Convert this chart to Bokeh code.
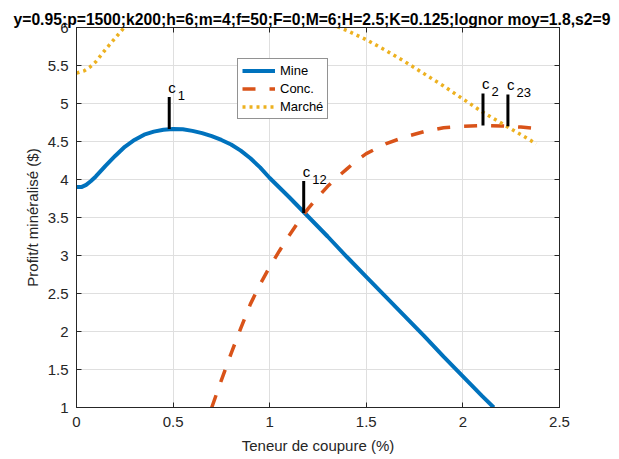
import numpy as np
from bokeh.plotting import figure
from bokeh.models import Range1d, LinearAxis, FixedTicker, Legend, LegendItem
from bokeh.core.properties import value
from bokeh.embed import file_html
from bokeh.resources import INLINE

title_text = "y=0.95;p=1500;k200;h=6;m=4;f=50;F=0;M=6;H=2.5;K=0.125;lognor moy=1.8,s2=9"
x_label = "Teneur de coupure (%)"
y_label = "Profit/t minéralisé ($)"

x_ticks = [0, 0.5, 1, 1.5, 2, 2.5]
x_tick_labels = ["0", "0.5", "1", "1.5", "2", "2.5"]
y_ticks = [1, 1.5, 2, 2.5, 3, 3.5, 4, 4.5, 5, 5.5, 6]
y_tick_labels = ["1", "1.5", "2", "2.5", "3", "3.5", "4", "4.5", "5", "5.5", "6"]

mine_x = [0, 0.025, 0.05, 0.075, 0.1, 0.15, 0.2, 0.25, 0.3, 0.35, 0.4, 0.45, 0.5, 0.55,
          0.6, 0.65, 0.7, 0.75, 0.8, 0.85, 0.9, 0.95, 1.0, 1.1, 1.2, 1.3, 1.4, 1.5,
          1.6, 1.7, 1.8, 1.9, 2.0, 2.1, 2.16]
mine_y = [3.90, 3.90, 3.93, 3.98, 4.04, 4.18, 4.31, 4.43, 4.52, 4.59, 4.63, 4.655, 4.665, 4.66,
          4.64, 4.61, 4.57, 4.52, 4.46, 4.38, 4.28, 4.16, 4.02, 3.77, 3.51, 3.25, 2.98, 2.72,
          2.46, 2.20, 1.94, 1.67, 1.41, 1.15, 1.0]

conc_x = [0.70, 0.75, 0.8, 0.85, 0.9, 0.95, 1.0, 1.05, 1.1, 1.15, 1.2, 1.25, 1.3, 1.35,
          1.4, 1.45, 1.5, 1.6, 1.7, 1.8, 1.9, 2.0, 2.1, 2.2, 2.3, 2.36]
conc_y = [1.0, 1.36, 1.71, 2.04, 2.36, 2.62, 2.85, 3.06, 3.26, 3.45, 3.62, 3.77, 3.91, 4.03,
          4.14, 4.25, 4.34, 4.47, 4.56, 4.63, 4.68, 4.70, 4.71, 4.705, 4.69, 4.675]

marche_x = [0, 0.04, 0.07, 0.1, 0.15, 0.2, 0.25, np.nan,
            1.35, 1.4, 1.5, 1.6, 1.7, 1.8, 1.9, 2.0, 2.1, 2.2, 2.3, 2.38]
marche_y = [5.40, 5.43, 5.48, 5.55, 5.71, 5.86, 6.01, np.nan,
            6.01, 5.96, 5.84, 5.70, 5.55, 5.39, 5.23, 5.06, 4.89, 4.74, 4.59, 4.47]

c_x = [0.48, 1.176, 2.104, 2.233]
c_y = [4.665, 3.56, 4.71, 4.70]
c_sub = ["1", "12", "2", "23"]

FONT = "Liberation Sans"
AX = "#262626"

p = figure(width=619, height=459, output_backend="svg", toolbar_location=None,
           x_range=Range1d(0, 2.5), y_range=Range1d(1, 6),
           min_border_left=76, min_border_right=60, min_border_top=27, min_border_bottom=52)
p.background_fill_color = "white"
p.border_fill_color = "white"
p.outline_line_color = AX
p.outline_line_width = 1

p.title.text = title_text
p.title.align = "left"
p.title.offset = -63
p.title.text_font = FONT
p.title.text_font_size = "15.7px"
p.title.text_font_style = "bold"
p.title.text_color = "black"
p.title.standoff = 0

for ax, ticks, labels in ((p.xaxis[0], x_ticks, x_tick_labels), (p.yaxis[0], y_ticks, y_tick_labels)):
    ax.ticker = FixedTicker(ticks=ticks)
    ax.major_label_overrides = dict(zip(ticks, labels))
    ax.major_tick_in = 5
    ax.major_tick_out = 0
    ax.minor_tick_line_color = None
    ax.axis_line_color = AX
    ax.major_tick_line_color = AX
    ax.major_label_text_font = FONT
    ax.major_label_text_font_size = "15px"
    ax.major_label_text_color = AX
    ax.axis_label_text_font = FONT
    ax.axis_label_text_font_size = "15px"
    ax.axis_label_text_font_style = "normal"
    ax.axis_label_text_color = AX

p.xaxis.axis_label = x_label
p.yaxis.axis_label = y_label
p.xaxis.major_label_standoff = 9
p.xaxis.axis_label_standoff = 7
p.yaxis.major_label_standoff = 8
p.yaxis.axis_label_standoff = 4

for ticks, side in ((y_ticks, "right"), (x_ticks, "above")):
    a = LinearAxis(ticker=FixedTicker(ticks=ticks), major_tick_in=5, major_tick_out=0,
                   major_label_text_color=None, major_label_text_font_size="1px",
                   major_label_standoff=0,
                   minor_tick_line_color=None, axis_line_color=AX, major_tick_line_color=AX)
    p.add_layout(a, side)

p.xgrid.ticker = FixedTicker(ticks=x_ticks)
p.ygrid.ticker = FixedTicker(ticks=y_ticks)
p.xgrid.grid_line_color = "#dfdfdf"
p.ygrid.grid_line_color = "#dfdfdf"

r_mine = p.line(mine_x, mine_y, line_color="#0072BD", line_width=4)
r_conc = p.line(conc_x, conc_y, line_color="#D95319", line_width=3.5, line_dash="13 14")
r_mar = p.line(np.array(marche_x), np.array(marche_y), line_color="#EDB120", line_width=3.5,
               line_dash="3 4")

c_top = [v + 0.42 for v in c_y]
p.segment(x0=c_x, y0=c_y, x1=c_x, y1=c_top, line_color="black", line_width=3)
p.text(x=c_x, y=c_top, text=["c"] * len(c_x), text_font=value(FONT), text_font_size="15px",
       text_align="left", text_baseline="alphabetic", x_offset=-1, y_offset=-10, text_color="black")
p.text(x=c_x, y=c_top, text=c_sub, text_font=value(FONT), text_font_size="13px",
       text_align="left", text_baseline="alphabetic", x_offset=8.5, y_offset=-2, text_color="black")

legend = Legend(items=[LegendItem(label="Mine", renderers=[r_mine]),
                       LegendItem(label="Conc.", renderers=[r_conc]),
                       LegendItem(label="Marché", renderers=[r_mar])],
                location=(161, 288))
legend.background_fill_color = "white"
legend.background_fill_alpha = 1
legend.border_line_color = AX
legend.border_line_width = 1
legend.padding = 4
legend.spacing = 3
legend.margin = 0
legend.glyph_width = 33
legend.glyph_height = 15
legend.label_height = 15
legend.label_standoff = 5
legend.label_text_font = FONT
legend.label_text_font_size = "13px"
legend.label_text_color = "black"
p.add_layout(legend)

open("out.html", "w").write(file_html(p, INLINE))
